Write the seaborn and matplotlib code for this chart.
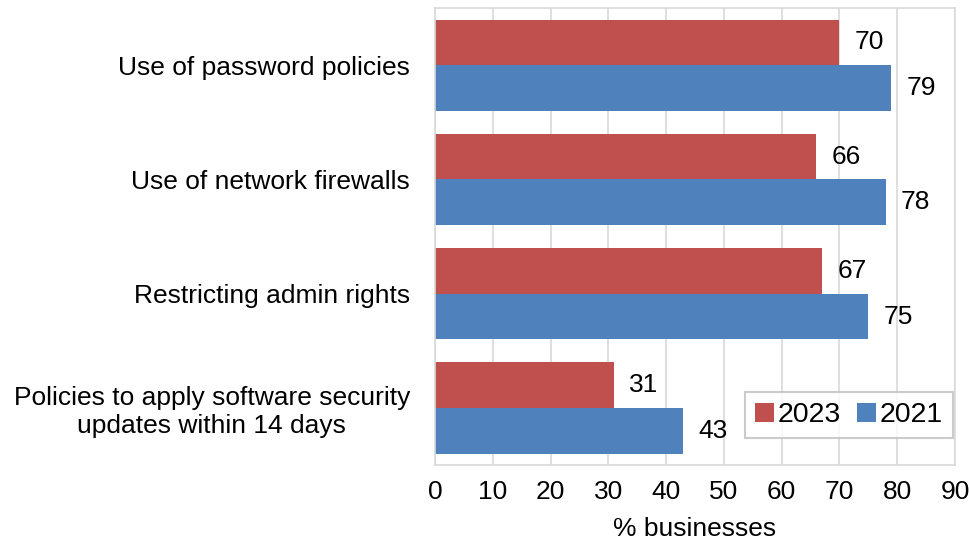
import matplotlib
matplotlib.use("Agg")
import matplotlib.pyplot as plt
import seaborn as sns
import pandas as pd

categories = ["Use of password policies", "Use of network firewalls",
              "Restricting admin rights",
              "Policies to apply software security\nupdates within 14 days"]
values_2023 = [70, 66, 67, 31]
values_2021 = [79, 78, 75, 43]
years = ["2023", "2021"]
colors = ["#C0504D", "#4F81BD"]
xticks = [0, 10, 20, 30, 40, 50, 60, 70, 80, 90]

df = pd.DataFrame({
    "category": categories * 2,
    "value": values_2023 + values_2021,
    "year": [years[0]] * 4 + [years[1]] * 4,
})

sns.set_style("white")
plt.rcParams["font.family"] = ["Liberation Sans", "DejaVu Sans"]
plt.rcParams["text.color"] = "black"
plt.rcParams["xtick.color"] = "black"
plt.rcParams["ytick.color"] = "black"
plt.rcParams["axes.labelcolor"] = "black"

FS = 19

fig = plt.figure(figsize=(9.7, 5.42), dpi=100)
ax = fig.add_axes([0.4485, 0.142, 0.536, 0.843])

sns.barplot(data=df, y="category", x="value", hue="year", hue_order=years,
            palette=colors, orient="h", width=0.8, saturation=1, ax=ax,
            linewidth=0, legend=True)

for cont in ax.containers:
    ax.bar_label(cont, padding=11, fontsize=FS, color="black")

ax.set_xlim(0, 90)
ax.set_xticks(xticks)
ax.set_xticklabels([str(t) for t in xticks], fontsize=FS)
ax.tick_params(axis="y", labelsize=FS, length=0, pad=18)
ax.tick_params(axis="x", length=0, pad=11)
for lab in ax.get_yticklabels():
    lab.set_horizontalalignment("right")
    lab.set_multialignment("center")
ax.set_ylabel("")
ax.set_xlabel("% businesses", fontsize=FS, labelpad=9)
ax.set_axisbelow(True)
ax.grid(axis="x", color="#D9D9D9", linewidth=1.2)
for s in ax.spines.values():
    s.set_color("#D9D9D9")
    s.set_linewidth(1.2)

leg = ax.legend(loc="lower right", bbox_to_anchor=(0.996, 0.059), ncol=2,
                fontsize=20.5, frameon=True, fancybox=False, edgecolor="#BFBFBF",
                handlelength=0.65, handleheight=0.65, handletextpad=0.15,
                columnspacing=0.55, borderpad=0.35, borderaxespad=0)
leg.get_frame().set_linewidth(1.5)

fig.savefig("out.png", dpi=100)
